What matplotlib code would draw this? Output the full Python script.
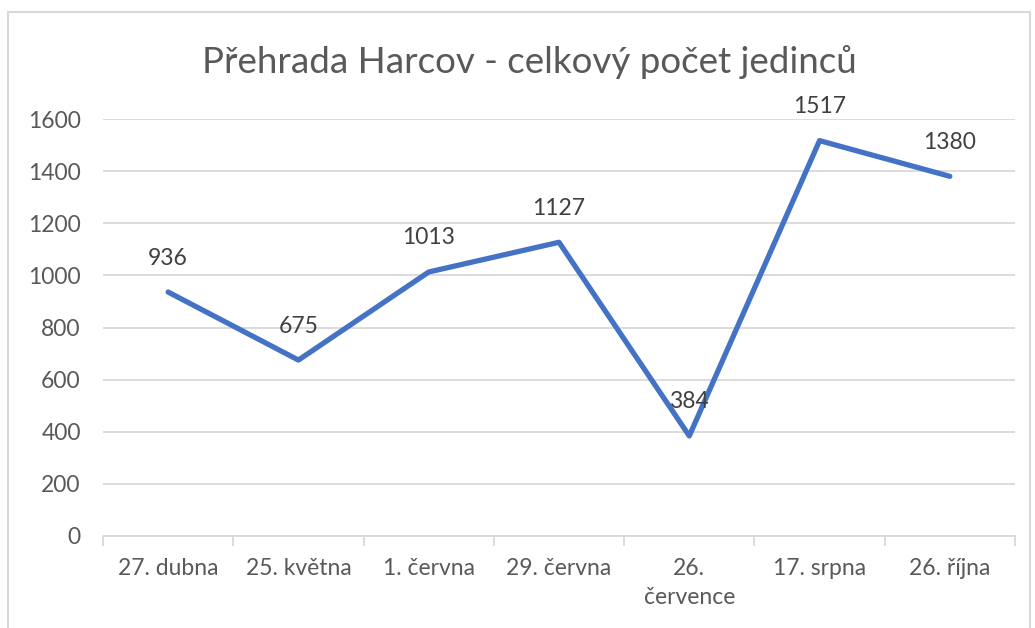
import matplotlib.pyplot as plt
from matplotlib.patches import Rectangle

plt.rcParams['font.family'] = ['Lato', 'DejaVu Sans']

# data
dates = ['27. dubna', '25. května', '1. června', '29. června',
         '26.\nčervence', '17. srpna', '26. října']
counts = [936, 675, 1013, 1127, 384, 1517, 1380]
y_ticks = [0, 200, 400, 600, 800, 1000, 1200, 1400, 1600]

grey = '#595959'
grid = '#D9D9D9'

fig = plt.figure(figsize=(10.35, 6.28), dpi=100)
ax = fig.add_axes([103 / 1035, 1 - 536 / 628, (1015 - 103) / 1035, (536 - 119) / 628])

x = list(range(len(dates)))
ax.plot(x, counts, color='#4472C4', linewidth=3.8, solid_capstyle='round',
        solid_joinstyle='round', zorder=3)

for xi, v in zip(x, counts):
    ax.annotate(str(v), (xi, v), xytext=(0, 24.5), textcoords='offset points',
                ha='center', va='center', fontsize=16.5, color='#404040', zorder=4)

ax.set_xlim(-0.5, len(dates) - 0.5)
ax.set_ylim(0, 1600)
ax.set_yticks(y_ticks)
ax.set_xticks(x)
ax.set_xticklabels(dates, fontsize=16.5, color=grey, linespacing=1.45)
ax.tick_params(axis='y', length=0, pad=16, labelsize=16.5, labelcolor=grey)
ax.tick_params(axis='x', length=0, pad=16)
ax.set_xticks([i - 0.5 for i in range(len(dates) + 1)], minor=True)
ax.tick_params(axis='x', which='minor', length=7, width=1.3, color=grid)

ax.grid(axis='y', color=grid, linewidth=1.3)
ax.set_axisbelow(True)
for side in ['top', 'right', 'left']:
    ax.spines[side].set_visible(False)
ax.spines['bottom'].set_color(grid)
ax.spines['bottom'].set_linewidth(1.3)

fig.text(529 / 1035, 1 - 62 / 628, 'Přehrada Harcov - celkový počet jedinců',
         ha='center', va='center', fontsize=26.5, color=grey)

# chart border
fig.patches.append(Rectangle((8 / 1035, -0.05), (1030 - 8) / 1035, 1.05 - 12 / 628,
                             transform=fig.transFigure, fill=False,
                             edgecolor=grid, linewidth=1.5))

fig.savefig('out.png', dpi=100)
